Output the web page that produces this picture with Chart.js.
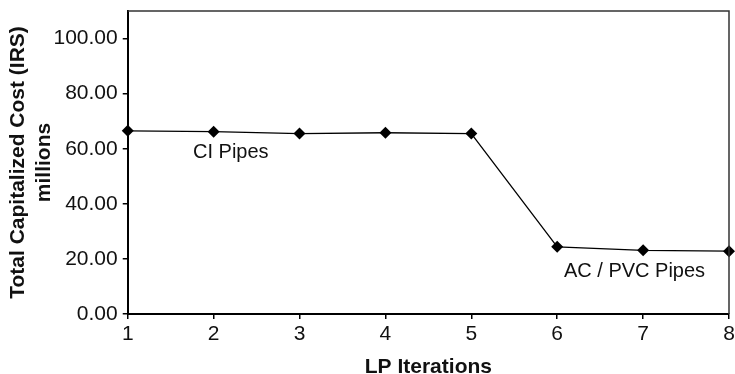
<!DOCTYPE html>
<html>
<head>
<meta charset="utf-8">
<script src="https://cdn.jsdelivr.net/npm/chart.js@4"></script>
<style>
  html, body { margin: 0; padding: 0; background: #fff; overflow: hidden; }
  #wrap { width: 735px; height: 374px; }
</style>
</head>
<body>
<div id="wrap"><canvas id="costChart"></canvas></div>
<script>
// Iteracoes do LP e custo capitalizado total (milhoes)
const iterations = [1, 2, 3, 4, 5, 6, 7, 8];
const totalCost = [66.5, 66.2, 65.5, 65.8, 65.5, 24.4, 23.1, 22.8];

// Rotulos de texto dentro do grafico (posicoes em unidades dos eixos)
const noteTexts = ["CI Pipes", "AC / PVC Pipes"];
const noteX = [2.2, 6.9];
const noteY = [58.5, 15.3];

const FONT = "'Liberation Sans', Arial, Helvetica, sans-serif";

// Desenha as notas e o contorno superior/direito da area do grafico
const notesPlugin = {
    id: "notes",
    afterDatasetsDraw(chart) {
        const ctx = chart.ctx;
        const area = chart.chartArea;
        const xs = chart.scales.x;
        const ys = chart.scales.y;
        ctx.save();
        ctx.strokeStyle = "#333";
        ctx.lineWidth = 1.5;
        ctx.beginPath();
        ctx.moveTo(area.left, area.top);
        ctx.lineTo(area.right, area.top);
        ctx.lineTo(area.right, area.bottom);
        ctx.stroke();

        ctx.fillStyle = "#111";
        ctx.font = "20px " + FONT;
        ctx.textAlign = "center";
        ctx.textBaseline = "middle";
        noteTexts.forEach((t, i) => {
            ctx.fillText(t, xs.getPixelForValue(noteX[i]), ys.getPixelForValue(noteY[i]));
        });
        ctx.restore();
    }
};

const costConfig = {
    type: "line",
    data: {
        datasets: [{
            data: iterations.map((it, i) => ({ x: it, y: totalCost[i] })),
            borderColor: "#000",
            borderWidth: 1.3,
            backgroundColor: "#000",
            pointStyle: "rectRot",
            pointRadius: 6,
            pointBorderWidth: 0,
            tension: 0,
            fill: false,
            clip: false
        }]
    },
    options: {
        responsive: true,
        maintainAspectRatio: false,
        animation: false,
        layout: {
            padding: { top: 11, right: 5, left: 5, bottom: 0 }
        },
        plugins: {
            legend: { display: false },
            tooltip: { enabled: false }
        },
        scales: {
            x: {
                type: "linear",
                min: 1,
                max: 8,
                // o "8" pode passar da borda do canvas
                afterFit(scale) {
                    scale.paddingLeft = 0;
                    scale.paddingRight = 0;
                },
                grid: { drawOnChartArea: false, tickLength: 5, color: "#000", lineWidth: 1.5 },
                border: { color: "#000", width: 2 },
                ticks: {
                    stepSize: 1,
                    color: "#111",
                    padding: 5,
                    font: { family: FONT, size: 21, lineHeight: 1 }
                },
                title: {
                    display: true,
                    text: "LP Iterations",
                    color: "#111",
                    padding: { top: 7, bottom: -4 },
                    font: { family: FONT, size: 21, weight: "bold", lineHeight: 1 }
                }
            },
            y: {
                min: 0,
                max: 110,
                afterBuildTicks(scale) {
                    scale.ticks = scale.ticks.filter(t => t.value <= 100);
                },
                afterFit(scale) {
                    scale.paddingTop = 0;
                    scale.paddingBottom = 0;
                },
                grid: { drawOnChartArea: false, tickLength: 5, color: "#000", lineWidth: 1.5 },
                border: { color: "#000", width: 2 },
                ticks: {
                    stepSize: 20,
                    color: "#111",
                    padding: 5,
                    font: { family: FONT, size: 21 },
                    callback: v => v.toFixed(2)
                },
                title: {
                    display: true,
                    text: ["Total Capitalized Cost (IRS)", "millions"],
                    color: "#111",
                    padding: { top: 0, bottom: -9 },
                    font: { family: FONT, size: 21, weight: "bold", lineHeight: 1.25 }
                }
            }
        }
    },
    plugins: [notesPlugin]
};

const costChart = new Chart(document.getElementById("costChart"), costConfig);
</script>
</body>
</html>
